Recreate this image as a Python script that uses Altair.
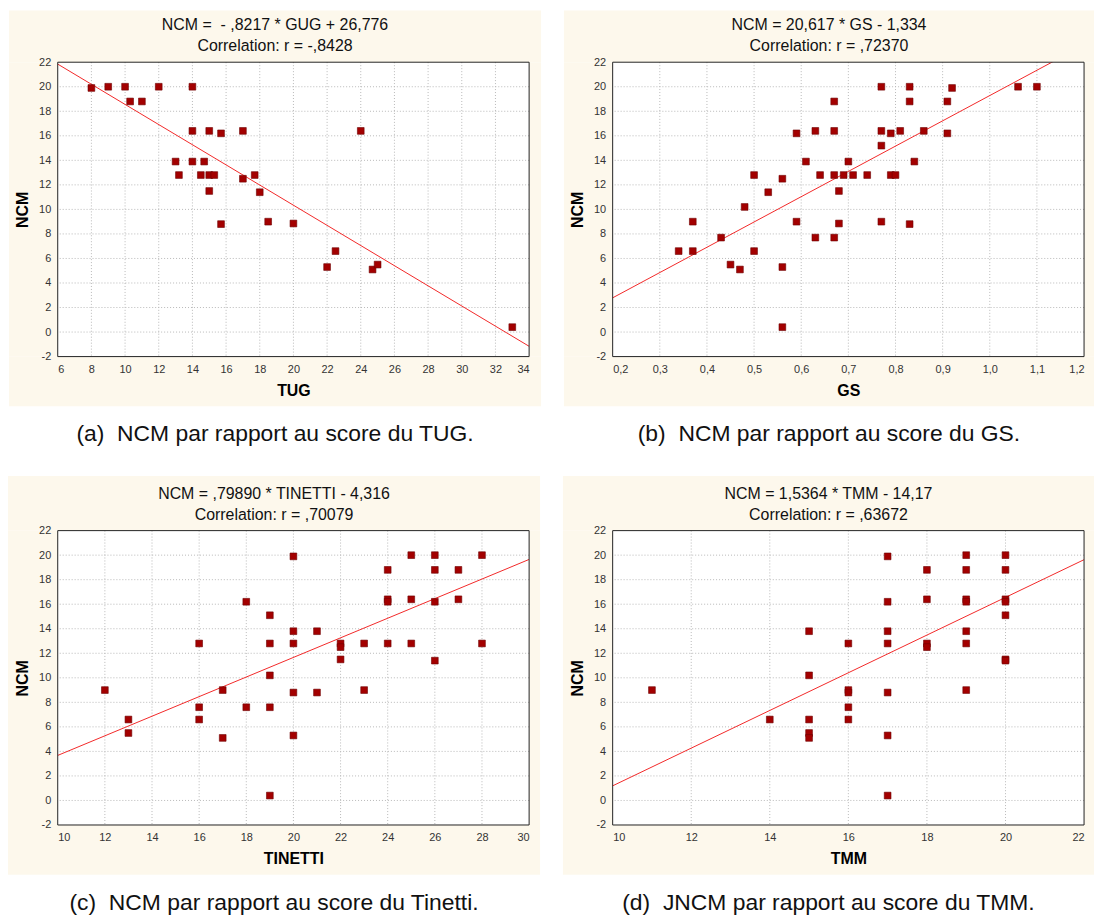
import altair as alt
import pandas as pd

# ---------------- data ----------------
TUG_X = [8, 9, 10, 10.3, 11, 12, 14, 14, 15, 15.7, 17, 24, 13, 14, 14.7, 13.2, 14.5, 15, 15.3,
         17, 17.7, 15, 18, 15.7, 18.5, 20, 22, 22.5, 24.7, 25, 33]
TUG_Y = [19.9, 20, 20, 18.8, 18.8, 20, 20, 16.4, 16.4, 16.2, 16.4, 16.4, 13.9, 13.9, 13.9, 12.8, 12.8, 12.8, 12.8,
         12.5, 12.8, 11.5, 11.4, 8.8, 9.0, 8.85, 5.3, 6.6, 5.1, 5.5, 0.4]

GS_X = [0.34, 0.37, 0.37, 0.43, 0.45, 0.47, 0.48, 0.50, 0.50, 0.53, 0.56, 0.56, 0.56, 0.59, 0.59, 0.61,
        0.63, 0.63, 0.64, 0.67, 0.67, 0.67, 0.67, 0.68, 0.68, 0.69, 0.70, 0.71, 0.74, 0.77, 0.77, 0.77,
        0.77, 0.79, 0.79, 0.80, 0.81, 0.83, 0.83, 0.83, 0.84, 0.86, 0.91, 0.91, 0.92, 1.06, 1.10]
GS_Y = [6.6, 6.6, 9.0, 7.7, 5.5, 5.1, 10.2, 12.8, 6.6, 11.4, 12.5, 5.3, 0.4, 16.2, 9.0, 13.9,
        16.4, 7.7, 12.8, 18.8, 16.4, 12.8, 7.7, 11.5, 8.85, 12.8, 13.9, 12.8, 12.8, 20, 16.4, 15.2,
        9.0, 16.2, 12.8, 12.8, 16.4, 20, 18.8, 8.8, 13.9, 16.4, 18.8, 16.2, 19.9, 20, 20]

TIN_X = [12, 13, 13, 16, 16, 16, 17, 17, 18, 18, 19, 19, 19, 19, 19, 20, 20, 20, 20, 20, 21, 21,
         22, 22, 22, 23, 23, 24, 24, 24, 24, 25, 25, 25, 26, 26, 26, 26, 27, 27, 28, 28]
TIN_Y = [9.0, 6.6, 5.5, 12.8, 7.6, 6.6, 9.0, 5.1, 16.2, 7.6, 15.1, 12.8, 10.2, 7.6, 0.4, 19.9, 13.8, 12.8, 8.8, 5.3, 13.8, 8.8,
         12.8, 12.5, 11.5, 12.8, 9.0, 18.8, 16.4, 16.2, 12.8, 20, 16.4, 12.8, 20, 18.8, 16.2, 11.4, 18.8, 16.4, 20, 12.8]

TMM_X = [11, 14, 15, 15, 15, 15, 15, 16, 16, 16, 16, 16, 17, 17, 17, 17, 17, 17, 17,
         18, 18, 18, 18, 19, 19, 19, 19, 19, 19, 19, 20, 20, 20, 20, 20, 20, 20]
TMM_Y = [9.0, 6.6, 13.8, 10.2, 6.6, 5.5, 5.1, 12.8, 9.0, 8.8, 7.6, 6.6, 19.9, 16.2, 13.8, 12.8, 8.8, 5.3, 0.4,
         18.8, 16.4, 12.8, 12.5, 20, 18.8, 16.4, 16.2, 13.8, 12.8, 9.0, 20, 18.8, 16.4, 16.2, 15.1, 11.5, 11.4]

X_NAMES = ["TUG", "GS", "TINETTI", "TMM"]
X_DOMAINS = [[6, 34], [0.2, 1.2], [10, 30], [10, 22]]
X_TICKS = [
    [6, 8, 10, 12, 14, 16, 18, 20, 22, 24, 26, 28, 30, 32, 34],
    [0.2, 0.3, 0.4, 0.5, 0.6, 0.7, 0.8, 0.9, 1.0, 1.1, 1.2],
    [10, 12, 14, 16, 18, 20, 22, 24, 26, 28, 30],
    [10, 12, 14, 16, 18, 20, 22],
]
Y_TICKS = [-2, 0, 2, 4, 6, 8, 10, 12, 14, 16, 18, 20, 22]
SLOPES = [-0.8217, 20.617, 0.79890, 1.5364]
INTERCEPTS = [26.776, -1.334, -4.316, -14.17]
TITLES_1 = [
    "NCM =\u00a0 - ,8217 * GUG + 26,776",
    "NCM = 20,617 * GS - 1,334",
    "NCM = ,79890 * TINETTI - 4,316",
    "NCM = 1,5364 * TMM - 14,17",
]
TITLES_2 = [
    "Correlation: r = -,8428",
    "Correlation: r = ,72370",
    "Correlation: r = ,70079",
    "Correlation: r = ,63672",
]
CAPTIONS = [
    "(a)\u00a0 NCM par rapport au score du TUG.",
    "(b)\u00a0 NCM par rapport au score du GS.",
    "(c)\u00a0 NCM par rapport au score du Tinetti.",
    "(d)\u00a0 JNCM par rapport au score du TMM.",
]

# ---------------- style ----------------
FONT = "Liberation Sans"
BEIGE = "#fdf8ec"
W, H = 474, 296
# beige panel extents relative to the plot area: left, right, top, bottom
EXTENTS = [(-49, 486, -52, 346), (-49, 484, -52, 346), (-50, 485, -55, 346), (-50, 484, -55, 346)]


def panel(i, xs, ys, decimal=False):
    left, right, top, bottom = EXTENTS[i]
    cx = (left + right) / 2
    if decimal:
        xlab = "replace(format(datum.value, '.1f'), '.', ',')"
    else:
        xlab = "replace(format(datum.value, 'd'), '\u2212', '-')"
    ylab = "replace(format(datum.value, 'd'), '\u2212', '-')"
    xax = alt.Axis(values=X_TICKS[i], labelExpr=xlab, grid=False, ticks=False, domain=False,
                   labelPadding=7, titlePadding=8, zindex=1, title=X_NAMES[i])
    yax = alt.Axis(values=Y_TICKS, labelExpr=ylab, grid=False, ticks=False, domain=False,
                   labelPadding=7, titlePadding=8, zindex=1, title="NCM")
    xsc = alt.Scale(domain=X_DOMAINS[i], nice=False, zero=False)
    ysc = alt.Scale(domain=[-2, 22], nice=False, zero=False)

    def X(f):
        return alt.X(f, type="quantitative", scale=xsc, axis=xax)

    def Y(f):
        return alt.Y(f, type="quantitative", scale=ysc, axis=yax)

    one = pd.DataFrame({"k": [0]})
    bands = []
    for (a, b, c, d) in [(left, right, top, 0), (left, right, H, bottom), (left, 0, 0, H), (W, right, 0, H)]:
        bands.append(alt.Chart(one).mark_rect(color=BEIGE).encode(
            x=alt.value(a), x2=alt.value(b), y=alt.value(c), y2=alt.value(d)))

    gx = alt.Chart(pd.DataFrame({"x": X_TICKS[i][1:-1]})).mark_rule(
        color="#b8b8b8", strokeDash=[1, 2], strokeWidth=1).encode(x=X("x"))
    gy = alt.Chart(pd.DataFrame({"y": Y_TICKS[1:-1]})).mark_rule(
        color="#b8b8b8", strokeDash=[1, 2], strokeWidth=1).encode(y=Y("y"))

    frame = alt.Chart(one).mark_rect(fill=None, stroke="#222222", strokeWidth=1).encode(
        x=alt.value(0), x2=alt.value(W), y=alt.value(0), y2=alt.value(H))

    line = alt.Chart(pd.DataFrame({"x": X_DOMAINS[i]})).transform_calculate(
        y=f"{SLOPES[i]} * datum.x + ({INTERCEPTS[i]})"
    ).mark_line(color="#f22828", strokeWidth=1, clip=True).encode(x=X("x"), y=Y("y"))

    pts = alt.Chart(pd.DataFrame({"x": xs, "y": ys})).mark_square(
        size=46, color="#a30000", opacity=1, stroke="#6e0000", strokeWidth=0.6
    ).encode(x=X("x"), y=Y("y"))

    t1 = alt.Chart(pd.DataFrame({"t": [TITLES_1[i]]})).mark_text(
        font=FONT, fontSize=16, color="#111111", align="center", baseline="alphabetic"
    ).encode(text="t:N", x=alt.value(cx), y=alt.value(-32))
    t2 = alt.Chart(pd.DataFrame({"t": [TITLES_2[i]]})).mark_text(
        font=FONT, fontSize=16, color="#111111", align="center", baseline="alphabetic"
    ).encode(text="t:N", x=alt.value(cx), y=alt.value(-11))
    cap = alt.Chart(pd.DataFrame({"t": [CAPTIONS[i]]})).mark_text(
        font=FONT, fontSize=23, color="#111111", align="center", baseline="alphabetic"
    ).encode(text="t:N", x=alt.value(cx), y=alt.value(381))

    return alt.layer(*bands, gx, gy, line, pts, frame, t1, t2, cap).properties(width=W, height=H)


pa = panel(0, TUG_X, TUG_Y)
pb = panel(1, GS_X, GS_Y, decimal=True)
pc = panel(2, TIN_X, TIN_Y)
pd_ = panel(3, TMM_X, TMM_Y)

chart = alt.concat(
    pa, pb, pc, pd_, columns=2, spacing={"row": 175, "column": 84}, bounds="flush",
).properties(padding=0, background="white").configure_view(stroke=None).configure_axis(
    labelFont=FONT, labelFontSize=11, labelColor="#333333",
    titleFont=FONT, titleFontSize=16, titleFontWeight="bold", titleColor="#000000",
)

chart.save("out.html", embed_options={"renderer": "svg", "actions": False})
